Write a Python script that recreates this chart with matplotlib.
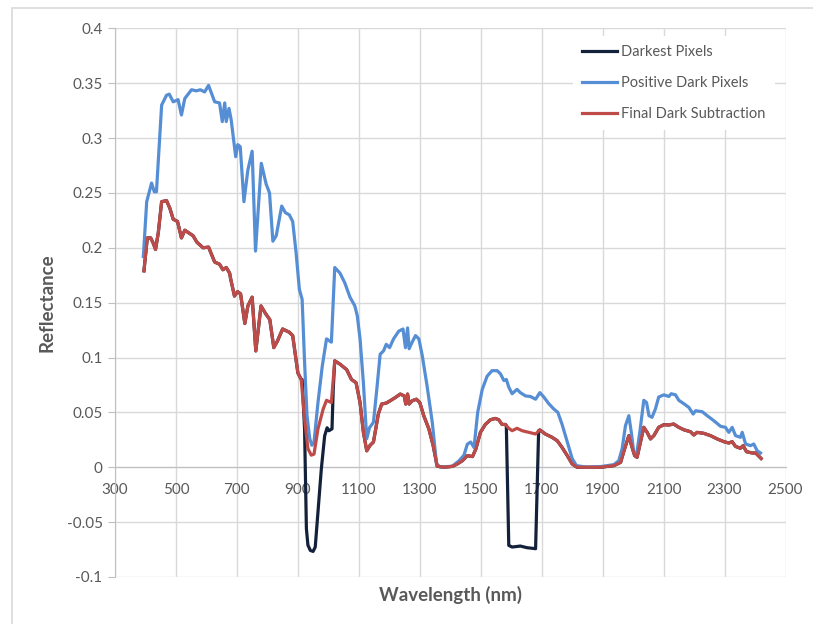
import numpy as np
import matplotlib
matplotlib.use('Agg')
import matplotlib.pyplot as plt
from matplotlib.patches import Rectangle

plt.rcParams['font.family'] = ['Lato', 'DejaVu Sans']

# Positive Dark Pixels (blue)
pos_nm = [393, 404, 420, 429, 436, 453, 469, 478, 491, 507, 518, 529, 551, 567, 580, 594, 607,
          627, 643, 652, 660, 665, 674, 681, 696, 703, 711, 723, 736, 750, 761, 780, 796, 807,
          818, 829, 847, 859, 872, 883, 894, 905, 914, 922, 930, 939, 946, 953, 966, 980, 994,
          1010, 1021, 1038, 1054, 1071, 1087, 1095, 1104, 1115, 1126, 1135, 1148, 1159, 1170,
          1181, 1190, 1201, 1214, 1231, 1245, 1253, 1260, 1265, 1275, 1286, 1297, 1308, 1324,
          1341, 1355, 1368, 1407, 1429, 1445, 1456, 1467, 1478, 1490, 1505, 1521, 1537, 1554,
          1565, 1576, 1584, 1592, 1603, 1619, 1630, 1647, 1663, 1680, 1694, 1707, 1723, 1740,
          1753, 1767, 1784, 1800, 1814, 1849, 1893, 1937, 1953, 1964, 1975, 1986, 1994, 2002,
          2011, 2022, 2035, 2044, 2052, 2062, 2073, 2084, 2101, 2117, 2125, 2139, 2150, 2166,
          2183, 2197, 2205, 2227, 2243, 2265, 2287, 2303, 2314, 2325, 2336, 2352, 2358, 2369,
          2385, 2396, 2407, 2418]
pos_val = [0.192, 0.242, 0.259, 0.251, 0.251, 0.330, 0.339, 0.340, 0.333, 0.335, 0.321, 0.336,
           0.344, 0.343, 0.344, 0.342, 0.348, 0.333, 0.332, 0.315, 0.332, 0.315, 0.327, 0.317,
           0.283, 0.294, 0.292, 0.242, 0.271, 0.288, 0.197, 0.277, 0.258, 0.250, 0.206, 0.211,
           0.238, 0.232, 0.230, 0.224, 0.196, 0.162, 0.153, 0.096, 0.047, 0.026, 0.020, 0.023,
           0.059, 0.092, 0.117, 0.114, 0.182, 0.177, 0.168, 0.155, 0.147, 0.138, 0.117, 0.077,
           0.026, 0.036, 0.041, 0.071, 0.103, 0.106, 0.112, 0.109, 0.117, 0.124, 0.126, 0.109,
           0.127, 0.108, 0.114, 0.120, 0.117, 0.102, 0.074, 0.041, 0.003, 0.000, 0.001, 0.006,
           0.011, 0.021, 0.023, 0.018, 0.050, 0.071, 0.083, 0.088, 0.088, 0.085, 0.079, 0.080,
           0.073, 0.067, 0.071, 0.068, 0.065, 0.0645, 0.062, 0.068, 0.064, 0.058, 0.053, 0.050,
           0.039, 0.023, 0.008, 0.0015, 0.000, 0.0006, 0.0024, 0.006, 0.017, 0.038, 0.047,
           0.032, 0.014, 0.011, 0.032, 0.061, 0.059, 0.047, 0.0455, 0.053, 0.064, 0.066, 0.0645,
           0.067, 0.066, 0.061, 0.058, 0.0545, 0.0485, 0.0515, 0.0506, 0.047, 0.0424, 0.0373,
           0.0364, 0.0318, 0.0364, 0.0288, 0.0273, 0.0318, 0.0212, 0.0197, 0.0212, 0.015, 0.013]

# Final Dark Subtraction (red)
fin_nm = [395, 406, 417, 425, 433, 442, 453, 469, 480, 491, 505, 518, 529, 545, 556, 569, 589,
          607, 627, 643, 654, 665, 676, 680, 692, 702, 712, 726, 736, 750, 762, 779, 794, 808,
          821, 833, 850, 872, 883, 900, 911, 922, 933, 944, 953, 966, 983, 994, 1010, 1021,
          1038, 1060, 1076, 1091, 1104, 1115, 1126, 1137, 1148, 1164, 1175, 1190, 1203, 1220,
          1236, 1249, 1254, 1260, 1265, 1275, 1289, 1300, 1313, 1330, 1344, 1357, 1379, 1407,
          1423, 1440, 1456, 1473, 1484, 1499, 1515, 1532, 1548, 1559, 1570, 1581, 1592, 1603,
          1619, 1636, 1658, 1680, 1694, 1712, 1734, 1751, 1767, 1784, 1800, 1816, 1893, 1937,
          1959, 1972, 1986, 1995, 2005, 2013, 2024, 2035, 2046, 2057, 2068, 2084, 2101, 2117,
          2133, 2150, 2166, 2188, 2199, 2210, 2232, 2254, 2276, 2298, 2314, 2325, 2336, 2352,
          2361, 2372, 2391, 2402, 2413, 2420]
fin_val = [0.179, 0.209, 0.209, 0.2045, 0.1985, 0.2136, 0.242, 0.243, 0.236, 0.226, 0.224,
           0.209, 0.216, 0.213, 0.211, 0.205, 0.200, 0.2006, 0.187, 0.185, 0.180, 0.182, 0.177,
           0.171, 0.156, 0.160, 0.158, 0.131, 0.147, 0.155, 0.106, 0.147, 0.140, 0.1345, 0.109,
           0.115, 0.126, 0.123, 0.120, 0.086, 0.080, 0.044, 0.017, 0.011, 0.012, 0.035, 0.053,
           0.061, 0.059, 0.097, 0.094, 0.089, 0.080, 0.077, 0.059, 0.032, 0.015, 0.020, 0.023,
           0.0485, 0.0576, 0.0585, 0.0606, 0.0636, 0.0667, 0.065, 0.0576, 0.0667, 0.0576, 0.0606,
           0.062, 0.059, 0.047, 0.0348, 0.0197, 0.001, 0.000, 0.0008, 0.003, 0.006, 0.0106,
           0.0097, 0.0167, 0.0318, 0.039, 0.0433, 0.0445, 0.0433, 0.039, 0.039, 0.0355, 0.0333,
           0.0355, 0.0333, 0.0318, 0.0303, 0.034, 0.0303, 0.0273, 0.0242, 0.018, 0.0106, 0.003,
           0.000, 0.000, 0.0015, 0.0045, 0.0167, 0.0288, 0.0197, 0.0106, 0.009, 0.0227, 0.0364,
           0.0318, 0.0258, 0.0288, 0.0364, 0.0388, 0.0385, 0.0394, 0.0364, 0.0342, 0.0324,
           0.0294, 0.0318, 0.0309, 0.0288, 0.0258, 0.0233, 0.0221, 0.0233, 0.019, 0.0173,
           0.0197, 0.0142, 0.013, 0.013, 0.010, 0.008]

# Darkest Pixels: same as final curve except two negative dips
dip1_nm = [914, 922, 928, 933, 941, 950, 957, 966, 977, 988, 996, 1002, 1012, 1016]
dip1_val = [0.080, 0.035, -0.056, -0.071, -0.0758, -0.0767, -0.0727, -0.041, -0.0015, 0.0288,
            0.036, 0.0333, 0.035, 0.0712]
dip2_nm = [1584, 1592, 1603, 1630, 1652, 1680, 1690]
dip2_val = [0.038, -0.0712, -0.0727, -0.0718, -0.0733, -0.0742, 0.0333]

fin_nm = np.array(fin_nm)
fin_val = np.array(fin_val)
m1 = fin_nm < 914
m2 = (fin_nm > 1016) & (fin_nm < 1584)
m3 = fin_nm > 1690
dark_nm = np.concatenate([fin_nm[m1], dip1_nm, fin_nm[m2], dip2_nm, fin_nm[m3]])
dark_val = np.concatenate([fin_val[m1], dip1_val, fin_val[m2], dip2_val, fin_val[m3]])

W, H = 813, 624
fig = plt.figure(figsize=(W / 100, H / 100), dpi=100)
ax = fig.add_axes([115 / W, 1 - 577 / H, (785.5 - 115) / W, (577 - 28.3) / H])

# outer chart border
fig.patches.append(Rectangle((12 / W, -0.1), 1.2, 1.1 - 8 / H, transform=fig.transFigure,
                             fill=False, edgecolor='#d9d9d9', linewidth=1.2))

lw = 2.3
ax.plot(dark_nm, dark_val, color='#13213a', lw=lw, label='Darkest Pixels', zorder=3)
ax.plot(pos_nm, pos_val, color='#558ed5', lw=lw, label='Positive Dark Pixels', zorder=4)
ax.plot(fin_nm, fin_val, color='#be4b48', lw=lw, label='Final Dark Subtraction', zorder=5)

ax.set_xlim(300, 2500)
ax.set_ylim(-0.1, 0.4)
ax.set_xticks(np.arange(300, 2501, 200))
ax.set_yticks(np.arange(-0.1, 0.401, 0.05))
ax.set_yticklabels(['-0.1', '-0.05', '0', '0.05', '0.1', '0.15', '0.2', '0.25', '0.3', '0.35', '0.4'])
ax.grid(True, color='#d9d9d9', linewidth=1.0, zorder=0)
ax.set_axisbelow(True)

for s in ['top', 'right']:
    ax.spines[s].set_visible(False)
ax.spines['left'].set_color('#bfbfbf')
ax.spines['bottom'].set_position(('data', 0))
ax.spines['bottom'].set_color('#bfbfbf')
ax.tick_params(axis='y', length=5, color='#bfbfbf', labelcolor='#595959', labelsize=11, pad=4)
ax.tick_params(axis='x', length=0, labelcolor='#595959', labelsize=11, pad=11)

ax.set_ylabel('Reflectance', fontsize=13.5, fontweight='bold', color='#595959')
ax.yaxis.set_label_coords((47 - 115) / (785.5 - 115), 0.5)
ax.set_xlabel('Wavelength (nm)', fontsize=13.5, fontweight='bold', color='#595959')
ax.xaxis.set_label_coords(0.5, -(595 - 577) / (577 - 28.3))
ax.xaxis.label.set_va('center')
ax.yaxis.label.set_va('center')

leg = ax.legend(loc='upper left', bbox_to_anchor=(566 / W, 1 - 29 / H), bbox_transform=fig.transFigure,
                frameon=True, facecolor='white', edgecolor='none', framealpha=1, fancybox=False,
                fontsize=10.5, handlelength=2.4, handletextpad=0.3, labelspacing=1.18, borderpad=0.6)
for t in leg.get_texts():
    t.set_color('#595959')

fig.savefig('out.png', dpi=100)
